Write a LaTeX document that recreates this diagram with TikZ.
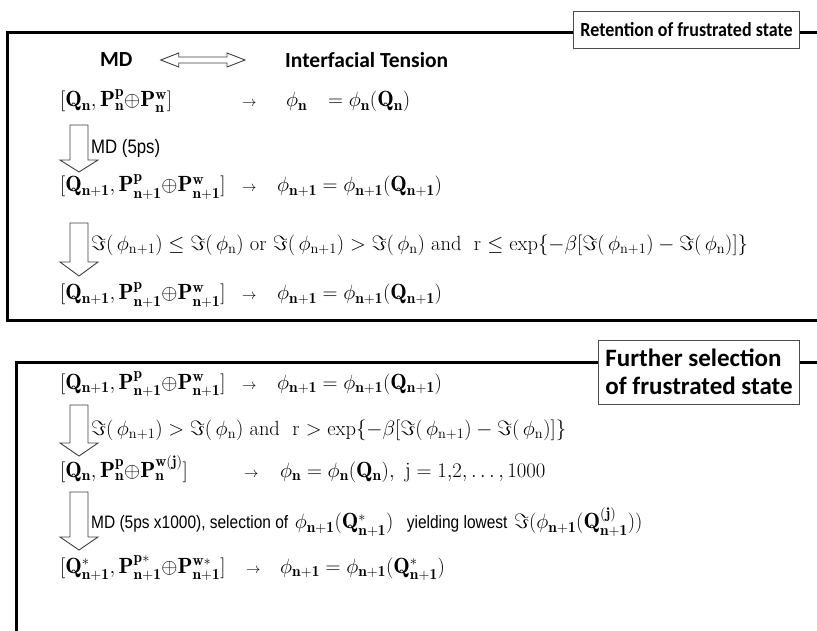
\documentclass[tikz,border=0pt]{standalone}
\usepackage{amsmath,amssymb}
\usepackage{fontspec}
\newfontfamily\calibri{Carlito}
\newfontfamily\calibrin[FakeStretch=0.9]{Carlito}
\newfontfamily\narrowsans[FakeStretch=0.86]{Liberation Sans}
\usetikzlibrary{calc}

\newcommand{\bn}{\mathbf{n}}
\newcommand{\bnn}{\mathbf{n+1}}
\newcommand{\rn}{\mathrm{n}}
\newcommand{\rnn}{\mathrm{n+1}}
\newcommand{\hollowdown}[4]{%
  \draw[hollow] (#1-9,#2) -- (#1+9,#2) -- (#1+9,#3) -- (#1+19,#3)
    -- (#1,#4) -- (#1-19,#3) -- (#1-9,#3) -- cycle;}

\tikzset{
  frame/.style={line width=3pt},
  tag/.style={draw=black!70, line width=0.8pt, fill=white, inner xsep=7pt,
    inner ysep=9pt, align=left, font=\calibri\bfseries\fontsize{25}{28}\selectfont},
  head/.style={inner sep=0pt, font=\calibri\bfseries\fontsize{21.5}{25}\selectfont},
  row/.style={inner sep=0pt, anchor=base west, font=\fontsize{22}{26}\selectfont},
  rowto/.style={inner sep=0pt, anchor=base west, font=\fontsize{15}{18}\selectfont},
  cond/.style={inner sep=0pt, anchor=west, font=\fontsize{20.5}{24}\selectfont},
  hollow/.style={draw=black!75, fill=white, line width=0.9pt, line join=miter}
}

\begin{document}
\begin{tikzpicture}[x=1pt, y=-1pt]
  \useasboundingbox (0,0) rectangle (817,631);
  % Frames
  \draw[frame] (817,33) -- (7,33) -- (7,320) -- (817,320);
  \draw[frame] (817,362) -- (16,362) -- (16,640);
  \node[tag, anchor=north east, minimum height=37pt, inner ysep=5pt,
    font=\calibrin\bfseries\fontsize{20}{24}\selectfont] (retain) at (800,11)
    {Retention of frustrated state};
  \node[tag, anchor=north east] (further) at (800,340)
    {Further selection\\of frustrated state};
  % Header line
  \node[head, anchor=west] (md) at (100,60) {MD};
  \node[head, anchor=west] (tension) at (285,60) {Interfacial Tension};
  \draw[hollow] ($(md.east)+(28,0)$) -- ++(18,-7) -- ++(0,4)
    -- ($(tension.west)+(-58,-3)$) -- ++(0,-4) -- ++(18,7) -- ++(-18,7)
    -- ++(0,-4) -- ($(md.east)+(46,3)$) -- ++(0,4) -- cycle;
  % Retention steps
  \node[row] (lhsA) at (60,107)
    {$[\mathbf{Q}_\bn,\mathbf{P}^{\mathbf p}_\bn{\oplus}\mathbf{P}^{\mathbf w}_\bn]$};
  \node[rowto] (toA) at (242,107) {$\to$};
  \node[row] (phiA) at (286,107) {$\phi_\bn$};
  \node[row] (rhsA) at (328,107) {$= \phi_\bn(\mathbf{Q}_\bn)$};
  \hollowdown{79}{125}{160}{172}
  \node[cond, font=\narrowsans\fontsize{19.5}{22}\selectfont] (stepA) at (91,148) {MD (5ps)};
  \node[row] (lhsB) at (60,192)
    {$[\mathbf{Q}_\bnn,\mathbf{P}^{\mathbf p}_\bnn{\oplus}\mathbf{P}^{\mathbf w}_\bnn]$};
  \node[rowto] (toB) at (242,192) {$\to$};
  \node[row] (rhsB) at (277,192) {$\phi_\bnn = \phi_\bnn(\mathbf{Q}_\bnn)$};
  \hollowdown{79}{223}{262}{276}
  \node[cond] (stepB) at (91,245)
    {$\Im(\,\phi_\rnn) \le \Im(\,\phi_\rn)$ or $\Im(\,\phi_\rnn) > \Im(\,\phi_\rn)$
     and\ \ r $\le \exp\{-\beta[\Im(\,\phi_\rnn) - \Im(\,\phi_\rn)]\}$};
  \node[row] (lhsC) at (60,300)
    {$[\mathbf{Q}_\bnn,\mathbf{P}^{\mathbf p}_\bnn{\oplus}\mathbf{P}^{\mathbf w}_\bnn]$};
  \node[rowto] (toC) at (242,300) {$\to$};
  \node[row] (rhsC) at (277,300) {$\phi_\bnn = \phi_\bnn(\mathbf{Q}_\bnn)$};
  % Further selection steps
  \node[row] (lhsD) at (60,389)
    {$[\mathbf{Q}_\bnn,\mathbf{P}^{\mathbf p}_\bnn{\oplus}\mathbf{P}^{\mathbf w}_\bnn]$};
  \node[rowto] (toD) at (242,389) {$\to$};
  \node[row] (rhsD) at (277,389) {$\phi_\bnn = \phi_\bnn(\mathbf{Q}_\bnn)$};
  \hollowdown{79}{405}{443}{456}
  \node[cond] (stepD) at (91,430)
    {$\Im(\,\phi_\rnn) > \Im(\,\phi_\rn)$ and\ \ r $> \exp\{-\beta[\Im(\,\phi_\rnn) - \Im(\,\phi_\rn)]\}$};
  \node[row] (lhsE) at (60,477)
    {$[\mathbf{Q}_\bn,\mathbf{P}^{\mathbf p}_\bn{\oplus}\mathbf{P}^{\mathbf{w(j)}}_\bn]$};
  \node[rowto] (toE) at (244,477) {$\to$};
  \node[row] (rhsE) at (280,477)
    {$\phi_\bn = \phi_\bn(\mathbf{Q}_\bn),\ \mathrm{j} = 1{,}2, \ldots, 1000$};
  \hollowdown{79}{492}{537}{550}
  \node[cond, font=\fontsize{22}{26}\selectfont] (stepE) at (91,522)
    {{\narrowsans\fontsize{18}{21}\selectfont MD (5ps x1000), selection of}
     $\phi_\bnn(\mathbf{Q}^*_\bnn)$\ \
     {\narrowsans\fontsize{18}{21}\selectfont yielding lowest}
     $\Im(\phi_\bnn(\mathbf{Q}^{(\mathbf j)}_\bnn))$};
  \node[row] (lhsF) at (60,573)
    {$[\mathbf{Q}^*_\bnn,\mathbf{P}^{\mathbf p*}_\bnn{\oplus}\mathbf{P}^{\mathbf w*}_\bnn]$};
  \node[rowto] (toF) at (246,573) {$\to$};
  \node[row] (rhsF) at (280,573) {$\phi_\bnn = \phi_\bnn(\mathbf{Q}^*_\bnn)$};
\end{tikzpicture}
\end{document}
